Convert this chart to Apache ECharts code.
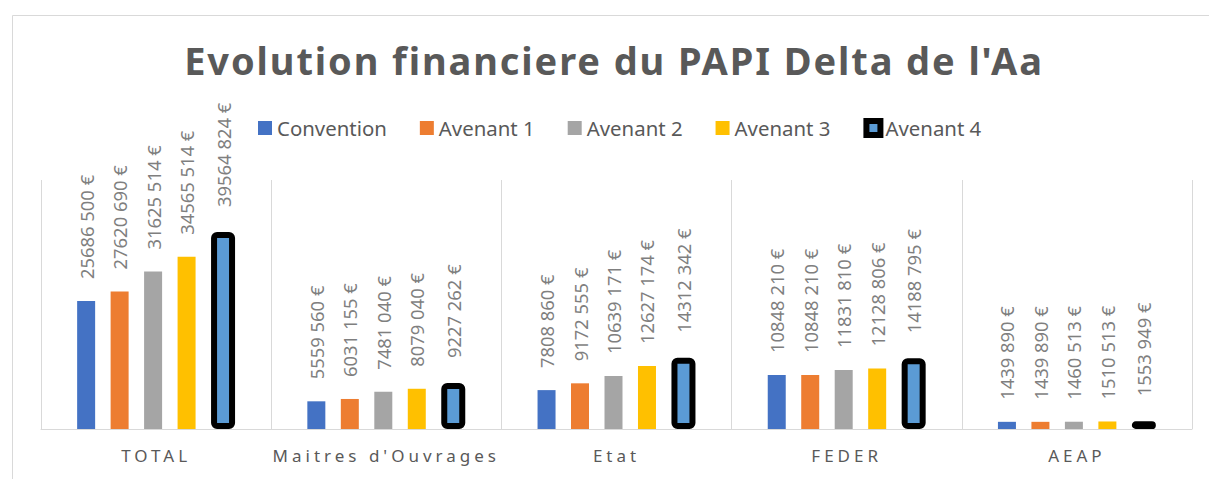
<!DOCTYPE html>
<html>
<head>
<meta charset="utf-8">
<script src="https://cdn.jsdelivr.net/npm/echarts@6/dist/echarts.min.js"></script>
<style>
  html, body { margin: 0; padding: 0; background: #fff; }
  #chart { width: 1209px; height: 479px; }
  /* espacement des caracteres comme dans Excel */
  #chart text[style*="38px"] { letter-spacing: 1.9px; }
  #chart text[style*="17px"] { letter-spacing: 4px; }
</style>
</head>
<body>
<div id="chart"></div>
<script>
const categories = ['TOTAL', "Maitres d'Ouvrages", 'Etat', 'FEDER', 'AEAP']
const convention = [25686500, 5559560, 7808860, 10848210, 1439890]
const avenant1 = [27620690, 6031155, 9172555, 10848210, 1439890]
const avenant2 = [31625514, 7481040, 10639171, 11831810, 1460513]
const avenant3 = [34565514, 8079040, 12627174, 12128806, 1510513]
const avenant4 = [39564824, 9227262, 14312342, 14188795, 1553949]

// 25686500 -> "25686 500 €"
const euro = (v) => Math.floor(v / 1000) + ' ' + String(v % 1000).padStart(3, '0') + ' €'

const makeLabel = (dist) => ({
    show: true,
    position: 'top',
    rotate: 90,
    align: 'left',
    verticalAlign: 'middle',
    distance: dist,
    fontFamily: 'Noto Sans',
    fontSize: 18.4,
    color: '#7f7f7f',
    formatter: (p) => euro(p.value)
})

const makeSeries = (name, data, color, width, extra, dist) => ({
    name: name,
    type: 'bar',
    data: data,
    barWidth: width,
    barGap: '86%',
    itemStyle: Object.assign({color: color}, extra || {}),
    label: makeLabel(dist || 22)
})

var myChart = echarts.init(document.getElementById('chart'), null, {renderer: 'svg'})
myChart.setOption({
    animation: false,
    title: {
        text: "Evolution financiere du PAPI Delta de l'Aa",
        left: 609,
        textAlign: 'center',
        top: 36,
        textStyle: {
            fontFamily: 'Noto Sans',
            fontWeight: 'bold',
            fontSize: 38,
            color: '#595959'
        }
    },
    legend: {
        top: 113,
        left: 253,
        icon: 'rect',
        itemWidth: 14,
        itemHeight: 14,
        itemGap: 33,
        textStyle: {
            fontFamily: 'Noto Sans',
            fontSize: 20.4,
            color: '#595959'
        },
        data: ['Convention', 'Avenant 1', 'Avenant 2', 'Avenant 3',
            {name: 'Avenant 4', itemStyle: {borderColor: '#000', borderWidth: 6}}]
    },
    grid: {
        left: 41,
        right: 17,
        top: 180,
        bottom: 50
    },
    xAxis: {
        type: 'category',
        data: categories,
        axisLine: {lineStyle: {color: '#d9d9d9'}},
        axisTick: {show: false},
        splitLine: {
            show: true,
            interval: 0,
            lineStyle: {color: '#d9d9d9'}
        },
        axisLabel: {
            margin: 18,
            fontFamily: 'Noto Sans',
            fontSize: 17,
            color: '#595959'
        }
    },
    yAxis: {
        type: 'value',
        show: false,
        min: 0,
        max: 50000000,
        splitLine: {show: false}
    },
    graphic: [{
        type: 'rect',
        left: 10,
        top: 13,
        shape: {width: 1300, height: 600},
        style: {fill: 'none', stroke: '#d9d9d9', lineWidth: 1},
        silent: true
    }],
    series: [
        makeSeries('Convention', convention, '#4472c4', 18),
        makeSeries('Avenant 1', avenant1, '#ed7d31', 18),
        makeSeries('Avenant 2', avenant2, '#a5a5a5', 18),
        makeSeries('Avenant 3', avenant3, '#ffc000', 18),
        makeSeries('Avenant 4', avenant4, '#5b9bd5', 24,
            {borderColor: '#000', borderWidth: 6, borderRadius: 3}, 25)
    ]
})
</script>
</body>
</html>
